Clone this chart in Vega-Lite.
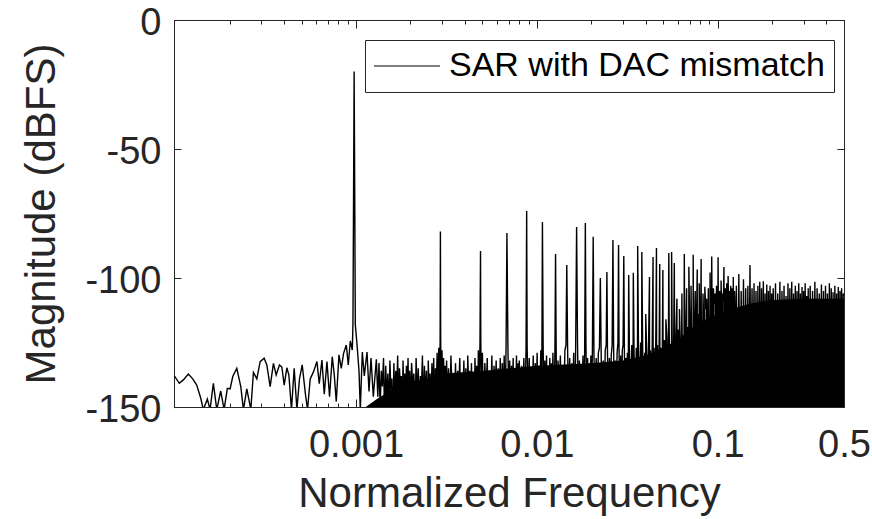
{
"$schema": "https://vega.github.io/schema/vega-lite/v6.json",
"width": 670, "height": 387,
"autosize": {"type": "none"},
"padding": {"left": 174, "top": 20, "right": 28, "bottom": 112},
"background": "white",
"config": {"view": {"stroke": "#262626", "strokeWidth": 1}, "font": "Liberation Sans"},
"datasets": {
"floor": [
{"f":0.00108,"top":-151},{"f":0.0013,"top":-147},{"f":0.0016,"top":-143},{"f":0.002,"top":-140},{"f":0.0028,"top":-138.5},{"f":0.003,"top":-137},{"f":0.005,"top":-136},{"f":0.01,"top":-134},{"f":0.02,"top":-133},{"f":0.03,"top":-132},{"f":0.04,"top":-130},{"f":0.05,"top":-127},{"f":0.06,"top":-124},{"f":0.07,"top":-120},{"f":0.08,"top":-117},{"f":0.1,"top":-114},{"f":0.12,"top":-112},{"f":0.15,"top":-110},{"f":0.2,"top":-108.5},{"f":0.3,"top":-108},{"f":0.4,"top":-108},{"f":0.5,"top":-108}
],
"spectrum": [
{"f":0.0000989,"m":-137.9},{"f":0.0001054,"m":-140.8},{"f":0.0001109,"m":-139.5},{"f":0.0001182,"m":-137.2},{"f":0.0001251,"m":-139.1},{"f":0.0001315,"m":-141.5},{"f":0.0001385,"m":-146.6},{"f":0.0001431,"m":-151},{"f":0.0001506,"m":-146.9},{"f":0.0001559,"m":-151},{"f":0.0001626,"m":-140.8},{"f":0.0001698,"m":-151},{"f":0.0001786,"m":-143.8},{"f":0.0001864,"m":-151},{"f":0.0001943,"m":-142.8},{"f":0.0002012,"m":-143},{"f":0.0002082,"m":-138.2},{"f":0.0002191,"m":-135},{"f":0.0002306,"m":-142.1},{"f":0.0002384,"m":-151},{"f":0.000249,"m":-143},{"f":0.000262,"m":-151},{"f":0.0002708,"m":-136.6},{"f":0.0002828,"m":-139.1},{"f":0.0002951,"m":-132.4},{"f":0.0003104,"m":-131.1},{"f":0.0003213,"m":-133.7},{"f":0.0003351,"m":-142.1},{"f":0.0003494,"m":-133.1},{"f":0.0003618,"m":-137.6},{"f":0.0003773,"m":-133.7},{"f":0.000389,"m":-134.5},{"f":0.0004007,"m":-141.5},{"f":0.0004147,"m":-134.8},{"f":0.0004254,"m":-137.6},{"f":0.0004397,"m":-151},{"f":0.0004552,"m":-135},{"f":0.0004711,"m":-151},{"f":0.0004869,"m":-139.1},{"f":0.0005041,"m":-133.7},{"f":0.0005258,"m":-145.3},{"f":0.0005394,"m":-151},{"f":0.0005582,"m":-139.1},{"f":0.0005823,"m":-136.3},{"f":0.000608,"m":-132.4},{"f":0.0006263,"m":-141},{"f":0.000648,"m":-131.8},{"f":0.0006675,"m":-145},{"f":0.0006908,"m":-132.4},{"f":0.000714,"m":-146},{"f":0.000739,"m":-130.5},{"f":0.0007582,"m":-137.5},{"f":0.0007779,"m":-147.9},{"f":0.000805,"m":-129.8},{"f":0.0008291,"m":-135},{"f":0.0008536,"m":-129.2},{"f":0.0008838,"m":-126},{"f":0.0009065,"m":-133.7},{"f":0.0009298,"m":-124.4},{"f":0.0009539,"m":-127.9},
{"f":0.0009619,"m":-118},{"f":0.0009692,"m":-70},{"f":0.0009766,"m":-20},{"f":0.000984,"m":-68},{"f":0.0009912,"m":-118},
{"f":0.0010128,"m":-125.7},{"f":0.001039,"m":-136},{"f":0.0010564,"m":-151},{"f":0.0010837,"m":-128.7},{"f":0.0011117,"m":-138},{"f":0.0011505,"m":-128.7},{"f":0.0011803,"m":-144},{"f":0.0012108,"m":-131},{"f":0.0012467,"m":-146},{"f":0.001296,"m":-131.5},
{"f":0.00132,"m":-146},{"f":0.00134,"m":-133},{"f":0.00136,"m":-150},{"f":0.00138,"m":-136},{"f":0.0014,"m":-142},{"f":0.00142,"m":-131},{"f":0.00144,"m":-155},{"f":0.00146,"m":-134},{"f":0.00148,"m":-147},{"f":0.0015,"m":-137},{"f":0.00152,"m":-152},{"f":0.00154,"m":-132},{"f":0.00156,"m":-144},{"f":0.00158,"m":-139},{"f":0.0016,"m":-158},{"f":0.00162,"m":-133},{"f":0.00164,"m":-149},{"f":0.00166,"m":-136},{"f":0.00168,"m":-146},{"f":0.0017,"m":-130},{"f":0.00172,"m":-153},{"f":0.00174,"m":-135},{"f":0.00176,"m":-143},{"f":0.00178,"m":-138},{"f":0.0018,"m":-156},{"f":0.00182,"m":-132},{"f":0.00184,"m":-147},{"f":0.00186,"m":-137},{"f":0.00188,"m":-151},{"f":0.0019,"m":-134},{"f":0.00192,"m":-145},{"f":0.00194,"m":-131},{"f":0.00196,"m":-154},{"f":0.00198,"m":-136},
{"f":0.002,"m":-149},{"f":0.00203,"m":-133},{"f":0.00206,"m":-142},{"f":0.00209,"m":-137},{"f":0.00212,"m":-157},{"f":0.00215,"m":-131},{"f":0.00218,"m":-146},{"f":0.00221,"m":-135},{"f":0.00224,"m":-152},{"f":0.00227,"m":-138},{"f":0.0023,"m":-144},{"f":0.00233,"m":-130},{"f":0.00236,"m":-155},{"f":0.00239,"m":-134},{"f":0.00242,"m":-148},{"f":0.00245,"m":-136},{"f":0.00248,"m":-160},{"f":0.00251,"m":-132},{"f":0.00254,"m":-145},{"f":0.00257,"m":-137},{"f":0.0026,"m":-151},{"f":0.00263,"m":-133},{"f":0.00266,"m":-147},{"f":0.00269,"m":-131},{"f":0.00272,"m":-156},{"f":0.00275,"m":-135},{"f":0.00278,"m":-143},{"f":0.00281,"m":-129},{"f":0.00284,"m":-150},{"f":0.00287,"m":-127},{"f":0.0029,"m":-141},{"f":0.00292,"m":-124},{"f":0.0029297,"m":-82},{"f":0.00294,"m":-123},{"f":0.00296,"m":-146},{"f":0.00299,"m":-128},{"f":0.00302,"m":-152},{"f":0.00305,"m":-131},{"f":0.00308,"m":-144},{"f":0.00311,"m":-134},{"f":0.00314,"m":-157},{"f":0.00317,"m":-132},
{"f":0.0032,"m":-147},{"f":0.00325,"m":-135},{"f":0.0033,"m":-153},{"f":0.00335,"m":-130},{"f":0.0034,"m":-145},{"f":0.00345,"m":-137},{"f":0.0035,"m":-158},{"f":0.00355,"m":-133},{"f":0.0036,"m":-149},{"f":0.00365,"m":-136},{"f":0.0037,"m":-143},{"f":0.00375,"m":-131},{"f":0.0038,"m":-155},{"f":0.00385,"m":-138},{"f":0.0039,"m":-146},{"f":0.00395,"m":-132},{"f":0.004,"m":-151},{"f":0.00405,"m":-135},{"f":0.0041,"m":-160},{"f":0.00415,"m":-130},{"f":0.0042,"m":-144},{"f":0.00425,"m":-136},{"f":0.0043,"m":-153},{"f":0.00435,"m":-133},{"f":0.0044,"m":-148},{"f":0.00445,"m":-137},{"f":0.0045,"m":-156},{"f":0.00455,"m":-131},{"f":0.0046,"m":-145},{"f":0.00465,"m":-134},{"f":0.0047,"m":-152},{"f":0.00475,"m":-128},{"f":0.0048,"m":-147},{"f":0.00485,"m":-125},{"f":0.0048828,"m":-89.5},{"f":0.0049,"m":-124},{"f":0.00495,"m":-150},
{"f":0.005,"m":-129},{"f":0.00508,"m":-154},{"f":0.00516,"m":-133},{"f":0.00524,"m":-146},{"f":0.00532,"m":-131},{"f":0.0054,"m":-158},{"f":0.00548,"m":-136},{"f":0.00556,"m":-149},{"f":0.00564,"m":-130},{"f":0.00572,"m":-152},{"f":0.0058,"m":-134},{"f":0.00588,"m":-145},{"f":0.00596,"m":-132},{"f":0.00604,"m":-157},{"f":0.00612,"m":-135},{"f":0.0062,"m":-148},{"f":0.00628,"m":-131},{"f":0.00636,"m":-153},{"f":0.00644,"m":-133},{"f":0.00652,"m":-147},{"f":0.0066,"m":-130},{"f":0.00668,"m":-151},{"f":0.00676,"m":-127},{"f":0.0068359,"m":-82.6},{"f":0.00692,"m":-126},{"f":0.007,"m":-150},{"f":0.00708,"m":-132},{"f":0.00716,"m":-156},{"f":0.00724,"m":-134},{"f":0.00732,"m":-146},{"f":0.0074,"m":-131},{"f":0.00748,"m":-159},{"f":0.00756,"m":-135},{"f":0.00764,"m":-149},{"f":0.00772,"m":-130},{"f":0.0078,"m":-153},{"f":0.00788,"m":-133},{"f":0.00796,"m":-147},
{"f":0.008,"m":-132},{"f":0.00812,"m":-155},{"f":0.00824,"m":-134},{"f":0.00836,"m":-146},{"f":0.00848,"m":-131},{"f":0.0086,"m":-152},{"f":0.00872,"m":-127},{"f":0.0087891,"m":-74},{"f":0.00884,"m":-126},{"f":0.00896,"m":-150},{"f":0.00908,"m":-131},{"f":0.0092,"m":-157},{"f":0.00932,"m":-135},{"f":0.00944,"m":-145},{"f":0.00956,"m":-130},{"f":0.00968,"m":-160},{"f":0.0098,"m":-133},{"f":0.00992,"m":-148},{"f":0.01004,"m":-129},{"f":0.01016,"m":-154},{"f":0.01028,"m":-134},{"f":0.0104,"m":-146},{"f":0.01052,"m":-128},{"f":0.01064,"m":-151},{"f":0.0107422,"m":-78.3},{"f":0.01084,"m":-126},{"f":0.01096,"m":-153},{"f":0.01108,"m":-132},{"f":0.0112,"m":-147},{"f":0.01132,"m":-130},{"f":0.01144,"m":-158},{"f":0.01156,"m":-135},{"f":0.01168,"m":-149},{"f":0.0118,"m":-131},{"f":0.01192,"m":-155},{"f":0.01204,"m":-133},{"f":0.01216,"m":-146},{"f":0.01228,"m":-129},{"f":0.0124,"m":-152},
{"f":0.0125,"m":-147},{"f":0.0126,"m":-127},{"f":0.0126953,"m":-90.7},{"f":0.0128,"m":-129},{"f":0.0129,"m":-153},{"f":0.0131,"m":-132},{"f":0.0133,"m":-146},{"f":0.0135,"m":-130},{"f":0.0137,"m":-157},{"f":0.0139,"m":-134},{"f":0.0141,"m":-149},{"f":0.0143,"m":-128},{"f":0.0145,"m":-126},{"f":0.0146484,"m":-95},{"f":0.0148,"m":-127},{"f":0.015,"m":-151},{"f":0.0152,"m":-131},{"f":0.0154,"m":-155},{"f":0.0156,"m":-133},{"f":0.0158,"m":-145},{"f":0.016,"m":-129},{"f":0.0162,"m":-159},{"f":0.0164,"m":-127},{"f":0.0166016,"m":-80.2},{"f":0.0168,"m":-126},{"f":0.017,"m":-150},{"f":0.0172,"m":-132},{"f":0.0174,"m":-156},{"f":0.0176,"m":-134},{"f":0.0178,"m":-147},{"f":0.018,"m":-130},{"f":0.0182,"m":-153},{"f":0.0184,"m":-127},{"f":0.0185547,"m":-78.7},{"f":0.0187,"m":-126},{"f":0.0189,"m":-149},{"f":0.0191,"m":-131},{"f":0.0193,"m":-156},{"f":0.0195,"m":-133},{"f":0.0197,"m":-146},{"f":0.0199,"m":-130},
{"f":0.02,"m":-154},{"f":0.0203,"m":-128},{"f":0.0205078,"m":-84},{"f":0.0207,"m":-129},{"f":0.021,"m":-152},{"f":0.0213,"m":-131},{"f":0.0216,"m":-147},{"f":0.0219,"m":-129},{"f":0.0222,"m":-127},{"f":0.0224609,"m":-100},{"f":0.0227,"m":-130},{"f":0.023,"m":-156},{"f":0.0233,"m":-132},{"f":0.0236,"m":-149},{"f":0.0239,"m":-128},{"f":0.0242,"m":-126},{"f":0.0244141,"m":-97.7},{"f":0.0246,"m":-129},{"f":0.0249,"m":-153},{"f":0.0252,"m":-131},{"f":0.0255,"m":-146},{"f":0.0258,"m":-130},{"f":0.0261,"m":-126},{"f":0.0263672,"m":-85.3},{"f":0.0266,"m":-127},{"f":0.0269,"m":-158},{"f":0.0272,"m":-132},{"f":0.0275,"m":-148},{"f":0.0278,"m":-129},{"f":0.0281,"m":-125},{"f":0.0283203,"m":-87.2},{"f":0.0285,"m":-127},{"f":0.0288,"m":-152},{"f":0.0291,"m":-130},{"f":0.0294,"m":-155},{"f":0.0297,"m":-128},{"f":0.03,"m":-126},{"f":0.0302734,"m":-91.5},{"f":0.0305,"m":-128},{"f":0.0308,"m":-151},{"f":0.0311,"m":-131},{"f":0.0314,"m":-147},{"f":0.0317,"m":-129},
{"f":0.032,"m":-154},{"f":0.0322266,"m":-98.8},{"f":0.0325,"m":-127},{"f":0.033,"m":-150},{"f":0.0335,"m":-126},{"f":0.034,"m":-156},{"f":0.0341797,"m":-98},{"f":0.0345,"m":-129},{"f":0.035,"m":-151},{"f":0.0355,"m":-127},{"f":0.036,"m":-157},{"f":0.0361328,"m":-87.6},{"f":0.0365,"m":-128},{"f":0.037,"m":-148},{"f":0.0375,"m":-125},{"f":0.038,"m":-153},{"f":0.0380859,"m":-89.9},{"f":0.0385,"m":-127},{"f":0.039,"m":-155},{"f":0.0395,"m":-129},{"f":0.04,"m":-150},{"f":0.0400391,"m":-114},{"f":0.0405,"m":-128},{"f":0.041,"m":-151},{"f":0.0415,"m":-126},{"f":0.0419922,"m":-99.6},{"f":0.042,"m":-157},{"f":0.0425,"m":-128},{"f":0.043,"m":-152},{"f":0.0435,"m":-125},{"f":0.0439453,"m":-91.9},{"f":0.044,"m":-149},{"f":0.0445,"m":-127},{"f":0.045,"m":-156},{"f":0.0455,"m":-124},{"f":0.0458984,"m":-88.4},{"f":0.046,"m":-150},{"f":0.0465,"m":-126},{"f":0.047,"m":-154},{"f":0.0475,"m":-125},{"f":0.0478516,"m":-94.6},{"f":0.048,"m":-158},{"f":0.0485,"m":-127},{"f":0.049,"m":-152},{"f":0.0495,"m":-124},{"f":0.0498047,"m":-96.9},
{"f":0.05,"m":-155},{"f":0.0508,"m":-124},{"f":0.0516,"m":-151},{"f":0.0517578,"m":-116},{"f":0.0524,"m":-123},{"f":0.0532,"m":-157},{"f":0.0537109,"m":-90.3},{"f":0.054,"m":-122},{"f":0.0548,"m":-150},{"f":0.0556,"m":-125},{"f":0.0556641,"m":-89.9},{"f":0.0564,"m":-153},{"f":0.0572,"m":-121},{"f":0.0576172,"m":-94.2},{"f":0.058,"m":-158},{"f":0.0588,"m":-123},{"f":0.0595703,"m":-108},{"f":0.0596,"m":-149},{"f":0.0604,"m":-120},{"f":0.0612,"m":-155},{"f":0.0615234,"m":-112},{"f":0.062,"m":-122},{"f":0.0628,"m":-152},{"f":0.0634766,"m":-106},{"f":0.0636,"m":-119},{"f":0.0644,"m":-157},{"f":0.0652,"m":-121},{"f":0.0654297,"m":-90.7},{"f":0.066,"m":-150},{"f":0.0668,"m":-118},{"f":0.0673828,"m":-104},{"f":0.0676,"m":-154},{"f":0.0684,"m":-119},{"f":0.0692,"m":-159},{"f":0.0693359,"m":-95.6},{"f":0.07,"m":-117},{"f":0.0708,"m":-151},{"f":0.0712891,"m":-103},{"f":0.0716,"m":-116},{"f":0.0724,"m":-156},{"f":0.0732,"m":-118},{"f":0.0732422,"m":-91},{"f":0.074,"m":-153},{"f":0.0748,"m":-115},{"f":0.0751953,"m":-105},{"f":0.0756,"m":-158},{"f":0.0764,"m":-117},{"f":0.0771484,"m":-96.7},{"f":0.0772,"m":-150},{"f":0.078,"m":-114},{"f":0.0788,"m":-155},{"f":0.0791016,"m":-102},{"f":0.0796,"m":-116},
{"f":0.08,"m":-152},{"f":0.0810547,"m":-92.6},{"f":0.0812,"m":-113},{"f":0.0824,"m":-157},{"f":0.0830078,"m":-106},{"f":0.0836,"m":-115},{"f":0.0848,"m":-150},{"f":0.0849609,"m":-103.4},{"f":0.086,"m":-112},{"f":0.0869141,"m":-108},{"f":0.0872,"m":-155},{"f":0.0884,"m":-114},{"f":0.0888672,"m":-104},{"f":0.0896,"m":-159},{"f":0.0908,"m":-111},{"f":0.0908203,"m":-97.9},{"f":0.092,"m":-153},{"f":0.0927734,"m":-91.7},{"f":0.0932,"m":-113},{"f":0.0944,"m":-156},{"f":0.0947266,"m":-104},{"f":0.0956,"m":-110},{"f":0.0966797,"m":-106},{"f":0.0968,"m":-151},{"f":0.098,"m":-112},{"f":0.0986328,"m":-103},{"f":0.0992,"m":-158},{"f":0.1004,"m":-111},{"f":0.1005859,"m":-92},{"f":0.1016,"m":-154},{"f":0.1025391,"m":-105},{"f":0.1028,"m":-110},{"f":0.104,"m":-157},{"f":0.1044922,"m":-101},{"f":0.1052,"m":-112},{"f":0.1064,"m":-150},{"f":0.1064453,"m":-106},{"f":0.1076,"m":-109},{"f":0.1083984,"m":-95.7},{"f":0.1088,"m":-155},{"f":0.11,"m":-111},{"f":0.1103516,"m":-104},{"f":0.1112,"m":-159},{"f":0.1123047,"m":-102},{"f":0.1124,"m":-110},{"f":0.1136,"m":-152},{"f":0.1142578,"m":-99.2},{"f":0.1148,"m":-108},{"f":0.116,"m":-156},{"f":0.1162109,"m":-105},{"f":0.1172,"m":-111},{"f":0.1181641,"m":-103},{"f":0.1184,"m":-153},{"f":0.1196,"m":-109},{"f":0.1201172,"m":-104},{"f":0.1208,"m":-158},{"f":0.122,"m":-110},{"f":0.1220703,"m":-99.6},{"f":0.1232,"m":-151},{"f":0.1240234,"m":-105},{"f":0.1244,"m":-108},
{"f":0.125,"m":-153},{"f":0.127,"m":-103},{"f":0.129,"m":-156},{"f":0.131,"m":-98.5},{"f":0.133,"m":-150},{"f":0.135,"m":-105},{"f":0.137,"m":-157},{"f":0.139,"m":-100.5},{"f":0.141,"m":-152},{"f":0.143,"m":-104},{"f":0.145,"m":-158},{"f":0.147,"m":-103},{"f":0.149,"m":-151},{"f":0.151,"m":-95},{"f":0.153,"m":-155},{"f":0.155,"m":-104},{"f":0.157,"m":-150},{"f":0.159,"m":-102},{"f":0.161,"m":-157},{"f":0.163,"m":-105},{"f":0.165,"m":-153},{"f":0.167,"m":-103},{"f":0.169,"m":-159},{"f":0.171,"m":-101.5},{"f":0.173,"m":-152},{"f":0.175,"m":-104},{"f":0.177,"m":-156},{"f":0.179,"m":-101.3},{"f":0.181,"m":-150},{"f":0.183,"m":-106},{"f":0.185,"m":-155},{"f":0.187,"m":-102.5},{"f":0.189,"m":-158},{"f":0.191,"m":-105},{"f":0.193,"m":-151},{"f":0.195,"m":-103},{"f":0.197,"m":-156},{"f":0.199,"m":-106},
{"f":0.2,"m":-154},{"f":0.203,"m":-104},{"f":0.206,"m":-150},{"f":0.209,"m":-102},{"f":0.212,"m":-157},{"f":0.215,"m":-106},{"f":0.218,"m":-152},{"f":0.221,"m":-101.5},{"f":0.224,"m":-158},{"f":0.227,"m":-105},{"f":0.23,"m":-151},{"f":0.233,"m":-103},{"f":0.236,"m":-156},{"f":0.239,"m":-107},{"f":0.242,"m":-150},{"f":0.245,"m":-102},{"f":0.248,"m":-155},{"f":0.251,"m":-104},{"f":0.254,"m":-159},{"f":0.257,"m":-101.5},{"f":0.26,"m":-152},{"f":0.263,"m":-106},{"f":0.266,"m":-157},{"f":0.269,"m":-103},{"f":0.272,"m":-150},{"f":0.275,"m":-105},{"f":0.278,"m":-154},{"f":0.281,"m":-102},{"f":0.284,"m":-158},{"f":0.287,"m":-106},{"f":0.29,"m":-151},{"f":0.293,"m":-103.5},{"f":0.296,"m":-156},{"f":0.299,"m":-105},{"f":0.302,"m":-150},{"f":0.305,"m":-102},{"f":0.308,"m":-157},{"f":0.311,"m":-107},{"f":0.314,"m":-153},{"f":0.317,"m":-104},
{"f":0.32,"m":-151},{"f":0.325,"m":-103},{"f":0.33,"m":-156},{"f":0.335,"m":-105},{"f":0.34,"m":-150},{"f":0.345,"m":-101.5},{"f":0.35,"m":-158},{"f":0.355,"m":-104},{"f":0.36,"m":-152},{"f":0.365,"m":-106},{"f":0.37,"m":-155},{"f":0.375,"m":-102.5},{"f":0.38,"m":-150},{"f":0.385,"m":-105},{"f":0.39,"m":-157},{"f":0.395,"m":-103},{"f":0.4,"m":-152},{"f":0.405,"m":-106},{"f":0.41,"m":-156},{"f":0.415,"m":-102},{"f":0.42,"m":-150},{"f":0.425,"m":-104},{"f":0.43,"m":-158},{"f":0.435,"m":-105.5},{"f":0.44,"m":-153},{"f":0.445,"m":-103},{"f":0.45,"m":-157},{"f":0.455,"m":-106},{"f":0.46,"m":-151},{"f":0.465,"m":-103.5},{"f":0.47,"m":-156},{"f":0.475,"m":-105},{"f":0.48,"m":-150},{"f":0.485,"m":-104},{"f":0.49,"m":-155},{"f":0.495,"m":-106},{"f":0.5,"m":-107}
]
},
"layer": [
{
"data": {"name": "floor"},
"mark": {"type": "area", "color": "#000000", "clip": true},
"encoding": {
"x": {"field": "f", "type": "quantitative",
 "scale": {"type": "log", "domain": [0.0000985, 0.5], "nice": false},
 "axis": {"orient": "bottom", "grid": false,
  "values": [0.0002,0.0003,0.0004,0.0005,0.0006,0.0007,0.0008,0.0009,0.001,0.002,0.003,0.004,0.005,0.006,0.007,0.008,0.009,0.01,0.02,0.03,0.04,0.05,0.06,0.07,0.08,0.09,0.1,0.2,0.3,0.4,0.5],
  "labelExpr": "indexof([0.001, 0.01, 0.1, 0.5], datum.value) >= 0 ? format(datum.value, '~g') : ''",
  "tickSize": {"condition": {"test": "indexof([0.001, 0.01, 0.1, 0.5], datum.value) >= 0", "value": -8}, "value": -4},
  "tickColor": "#262626", "domainColor": "#262626",
  "labelFont": "Liberation Sans", "labelFontSize": 38, "labelColor": "#262626", "labelPadding": 27,
  "labelFlush": false, "labelOverlap": false,
  "title": "Normalized Frequency", "titleFont": "Liberation Sans", "titleFontSize": 42, "titleFontWeight": "normal", "titleColor": "#262626",
  "titleY": 99, "titleBaseline": "alphabetic"}},
"y": {"field": "top", "type": "quantitative",
 "scale": {"domain": [-150, 0], "nice": false},
 "axis": {"orient": "left", "grid": false, "values": [-150, -100, -50, 0],
  "labelExpr": "'' + datum.value",
  "tickSize": -7, "tickColor": "#262626", "domainColor": "#262626",
  "labelFont": "Liberation Sans", "labelFontSize": 38, "labelColor": "#262626", "labelPadding": 20, "labelOffset": 3,
  "labelFlush": false, "labelOverlap": false,
  "title": "Magnitude (dBFS)", "titleFont": "Liberation Sans", "titleFontSize": 42, "titleFontWeight": "normal", "titleColor": "#262626",
  "titleX": -120, "titleBaseline": "alphabetic"}},
"y2": {"datum": -150}
}
},
{
"data": {"name": "spectrum"},
"mark": {"type": "line", "strokeWidth": 1.4, "clip": true},
"encoding": {
"x": {"field": "f", "type": "quantitative",
 "scale": {"type": "log", "domain": [0.0000985, 0.5], "nice": false},
 "axis": {"orient": "top", "grid": false, "labels": false, "title": null,
  "values": [0.0002,0.0003,0.0004,0.0005,0.0006,0.0007,0.0008,0.0009,0.001,0.002,0.003,0.004,0.005,0.006,0.007,0.008,0.009,0.01,0.02,0.03,0.04,0.05,0.06,0.07,0.08,0.09,0.1,0.2,0.3,0.4,0.5],
  "tickSize": {"condition": {"test": "indexof([0.001, 0.01, 0.1, 0.5], datum.value) >= 0", "value": -8}, "value": -4},
  "tickColor": "#262626", "domainColor": "#262626"}},
"y": {"field": "m", "type": "quantitative",
 "scale": {"domain": [-150, 0], "nice": false},
 "axis": {"orient": "right", "grid": false, "labels": false, "title": null, "values": [-150, -100, -50, 0],
  "tickSize": -7, "tickColor": "#262626", "domainColor": "#262626"}},
"color": {"datum": "SAR with DAC mismatch", "type": "nominal",
 "scale": {"range": ["#000000"]},
 "legend": {"title": null, "orient": "none", "legendX": 191, "legendY": 20, "padding": 9,
  "strokeColor": "#262626", "fillColor": "white", "cornerRadius": 0,
  "symbolType": "M-2,0H2", "symbolSize": 1089, "symbolStrokeWidth": 1,
  "labelFont": "Liberation Sans", "labelFontSize": 34, "labelColor": "#000000", "labelOffset": 25, "symbolOffset": 16, "labelLimit": 0,
  "labelExpr": "datum.label + '\u00a0'"}}
}
}
],
"resolve": {"axis": {"x": "independent", "y": "independent"}}
}
